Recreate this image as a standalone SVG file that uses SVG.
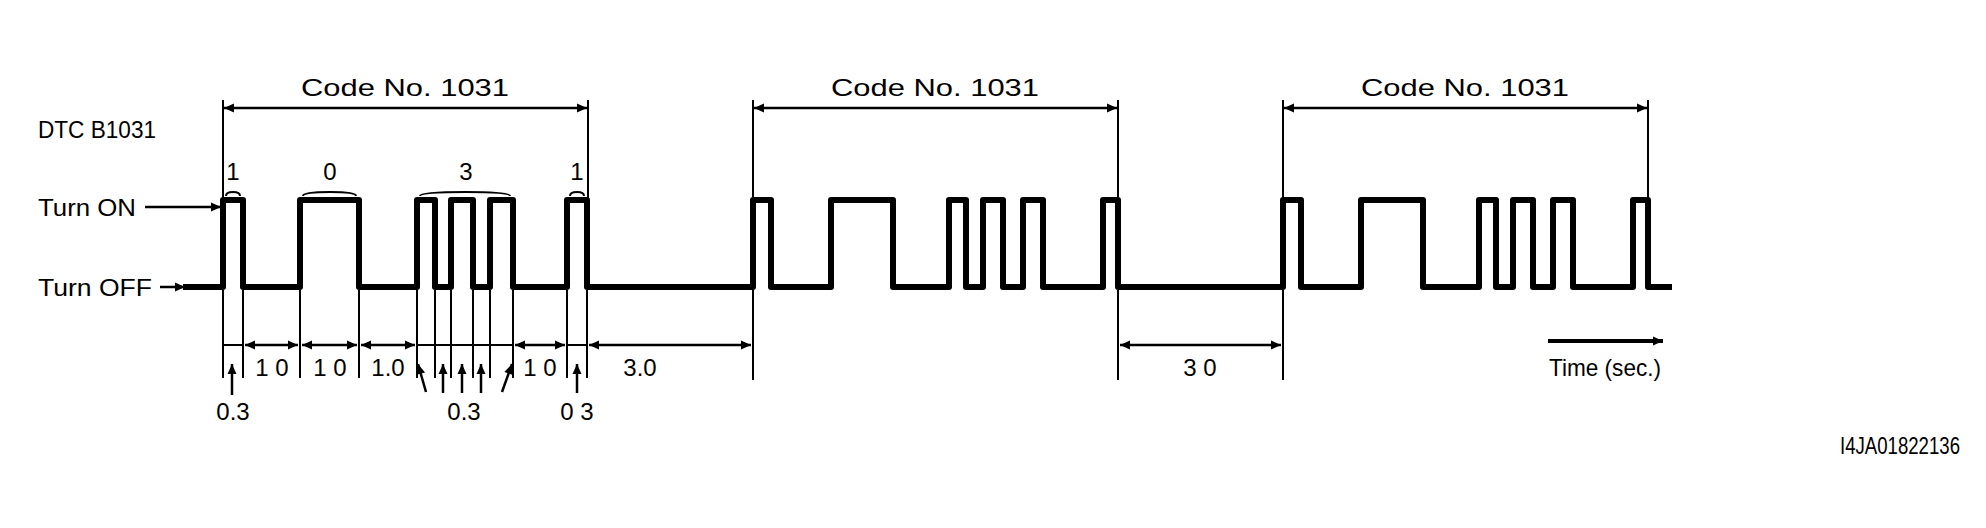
<svg xmlns="http://www.w3.org/2000/svg" width="1986" height="528" viewBox="0 0 1986 528">
<defs>
<marker id="ah" viewBox="0 0 10 10" refX="10" refY="5" markerWidth="15" markerHeight="10" orient="auto-start-reverse" markerUnits="userSpaceOnUse"><path d="M0,0.5 L10,5 L0,9.5 Z" fill="#000"/></marker>
</defs>
<style>
text{font-family:"Liberation Sans",Arial,sans-serif;font-size:24px;fill:#000}
.sig{fill:none;stroke:#000;stroke-width:6;stroke-linejoin:round}
.thin{fill:none;stroke:#000;stroke-width:2}
.dim{fill:none;stroke:#000;stroke-width:2.5;marker-start:url(#ah);marker-end:url(#ah)}
.one{fill:none;stroke:#000;stroke-width:2.5;marker-end:url(#ah)}
</style>
<rect width="1986" height="528" fill="#fff"/>
<g id="labels">
<text x="38" y="138" textLength="118" lengthAdjust="spacingAndGlyphs">DTC B1031</text>
<text x="38" y="216" textLength="98" lengthAdjust="spacingAndGlyphs">Turn ON</text>
<text x="38" y="296" textLength="114" lengthAdjust="spacingAndGlyphs">Turn OFF</text>
<text x="1840" y="454" font-size="20" textLength="120" lengthAdjust="spacingAndGlyphs">I4JA01822136</text>
<text x="1549" y="376" textLength="112" lengthAdjust="spacingAndGlyphs">Time (sec.)</text>
</g>
<g id="code1">
<text x="405" y="96" text-anchor="middle" textLength="208" lengthAdjust="spacingAndGlyphs">Code No. 1031</text>
<text x="233" y="180" text-anchor="middle">1</text>
<text x="330" y="180" text-anchor="middle">0</text>
<text x="466" y="180" text-anchor="middle">3</text>
<text x="577" y="180" text-anchor="middle">1</text>
</g>
<g id="code2"><text x="935" y="96" text-anchor="middle" textLength="208" lengthAdjust="spacingAndGlyphs">Code No. 1031</text></g>
<g id="code3"><text x="1465" y="96" text-anchor="middle" textLength="208" lengthAdjust="spacingAndGlyphs">Code No. 1031</text></g>
<g id="dimlabels">
<text x="272" y="376" text-anchor="middle">1 0</text>
<text x="330" y="376" text-anchor="middle">1 0</text>
<text x="388" y="376" text-anchor="middle">1.0</text>
<text x="540" y="376" text-anchor="middle">1 0</text>
<text x="640" y="376" text-anchor="middle">3.0</text>
<text x="1200" y="376" text-anchor="middle">3 0</text>
<text x="233" y="420" text-anchor="middle">0.3</text>
<text x="464" y="420" text-anchor="middle">0.3</text>
<text x="577" y="420" text-anchor="middle">0 3</text>
</g>
<g id="connectors">
<path class="sig" d="M183,287 H223 V200 H243 V287 H300 V200 H359 V287 H417 V200 H435 V287 H451 V200 H473 V287 H490 V200 H513 V287 H567 V200 H587 V287
H753 V200 H771 V287 H831 V200 H893 V287 H949 V200 H966 V287 H983 V200 H1003 V287 H1023 V200 H1043 V287 H1103 V200 H1118 V287
H1283 V200 H1301 V287 H1361 V200 H1423 V287 H1479 V200 H1496 V287 H1513 V200 H1533 V287 H1553 V200 H1573 V287 H1633 V200 H1648 V287 H1672"/>
<line class="one" x1="145" y1="207" x2="221" y2="207"/>
<line class="one" x1="160" y1="287" x2="185" y2="287"/>
<path class="thin" d="M223,100 V200 M588,100 V200 M753,100 V200 M1118,100 V200 M1283,100 V200 M1648,100 V200"/>
<line class="dim" x1="224" y1="108" x2="587" y2="108"/>
<line class="dim" x1="754" y1="108" x2="1117" y2="108"/>
<line class="dim" x1="1284" y1="108" x2="1647" y2="108"/>
<path class="thin" d="M226,196 Q226,192 233,192 Q240,192 240,196 M303,196 Q303,192 330,192 Q356,192 356,196 M420,196 Q420,192 466,192 Q510,192 510,196 M570,196 Q570,192 577,192 Q584,192 584,196"/>
<path class="thin" d="M223,290 V378 M243,290 V378 M300,290 V378 M359,290 V378 M417,290 V378 M435,290 V378 M451,290 V378 M473,290 V378 M490,290 V378 M513,290 V378 M567,290 V378 M587,290 V378 M753,290 V380 M1118,290 V380 M1283,290 V380"/>
<line class="thin" x1="223" y1="345" x2="243" y2="345"/>
<line class="dim" x1="245" y1="345" x2="298" y2="345"/>
<line class="dim" x1="302" y1="345" x2="357" y2="345"/>
<line class="dim" x1="361" y1="345" x2="415" y2="345"/>
<line class="thin" x1="417" y1="345" x2="513" y2="345"/>
<line class="dim" x1="515" y1="345" x2="565" y2="345"/>
<line class="thin" x1="567" y1="345" x2="587" y2="345"/>
<line class="dim" x1="589" y1="345" x2="751" y2="345"/>
<line class="dim" x1="1120" y1="345" x2="1281" y2="345"/>
<line class="one" x1="232" y1="395" x2="232" y2="364"/>
<line class="one" x1="426" y1="392" x2="418" y2="364"/>
<line class="one" x1="443" y1="393" x2="443" y2="364"/>
<line class="one" x1="462" y1="393" x2="462" y2="364"/>
<line class="one" x1="481" y1="393" x2="481" y2="364"/>
<line class="one" x1="502" y1="392" x2="512" y2="364"/>
<line class="one" x1="577" y1="393" x2="577" y2="364"/>
<line class="one" x1="1548" y1="341" x2="1663" y2="341" style="stroke-width:4"/>
</g>
</svg>
